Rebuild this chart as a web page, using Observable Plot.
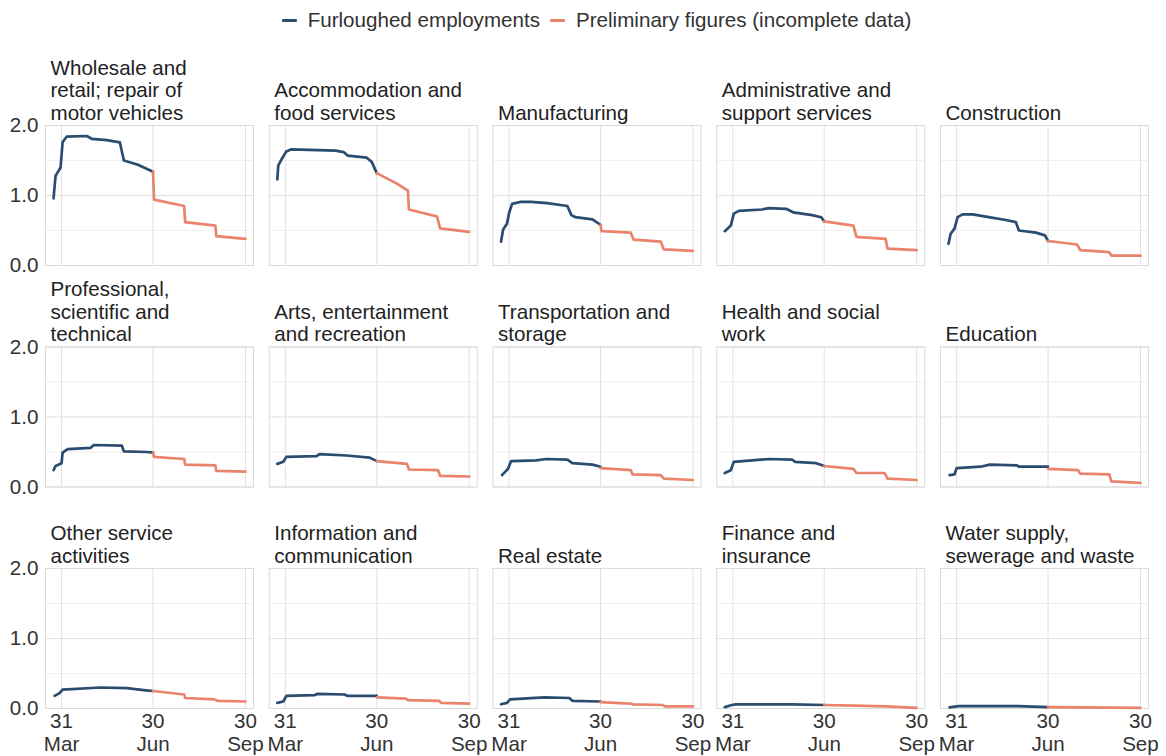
<!DOCTYPE html>
<html>
<head>
<meta charset="utf-8">
<script src="https://cdn.jsdelivr.net/npm/d3@7"></script>
<script src="https://cdn.jsdelivr.net/npm/@observablehq/plot@0.6"></script>
<style>
  html, body { margin: 0; padding: 0; background: #fff; }
  body { font-family: "Liberation Sans", Arial, sans-serif; width: 1166px; }
  #legend { height: 40px; display: flex; justify-content: center; align-items: center;
    padding-left: 45px; padding-right: 18px; box-sizing: border-box; font-size: 20.6px; color: #333; }
  .item { display: flex; align-items: center; margin: 0 5px; }
  .sw { width: 15px; height: 3px; margin-right: 11px; border-radius: 1px; }
  #chart svg { display: block; }
</style>
</head>
<body>
<div id="legend"></div>
<div id="chart"></div>
<script>
// ---- Data (values in millions) ----
const seriesNames = ["Furloughed employments", "Preliminary figures (incomplete data)"];
const seriesColors = ["#2b4c71", "#ea836b"];

const titles = [
  "Wholesale and\nretail; repair of\nmotor vehicles",
  "Accommodation and\nfood services",
  "Manufacturing",
  "Administrative and\nsupport services",
  "Construction",
  "Professional,\nscientific and\ntechnical",
  "Arts, entertainment\nand recreation",
  "Transportation and\nstorage",
  "Health and social\nwork",
  "Education",
  "Other service\nactivities",
  "Information and\ncommunication",
  "Real estate",
  "Finance and\ninsurance",
  "Water supply,\nsewerage and waste"
];

const wholesaleF = [["2020-03-23",0.96],["2020-03-25",1.28],["2020-03-30",1.40],["2020-04-01",1.76],["2020-04-05",1.84],["2020-04-25",1.85],["2020-04-30",1.81],["2020-05-15",1.79],["2020-05-28",1.76],["2020-06-01",1.50],["2020-06-15",1.44],["2020-06-30",1.34]];
const wholesaleP = [["2020-06-30",1.34],["2020-07-01",0.94],["2020-07-31",0.85],["2020-08-01",0.62],["2020-08-31",0.57],["2020-09-01",0.42],["2020-09-30",0.38]];

const accommodationF = [["2020-03-23",1.23],["2020-03-24",1.43],["2020-03-27",1.51],["2020-04-01",1.63],["2020-04-06",1.66],["2020-05-20",1.64],["2020-05-28",1.62],["2020-06-01",1.57],["2020-06-20",1.54],["2020-06-25",1.48],["2020-06-30",1.32]];
const accommodationP = [["2020-06-30",1.32],["2020-07-20",1.17],["2020-07-31",1.07],["2020-08-01",0.80],["2020-08-29",0.70],["2020-09-01",0.53],["2020-09-30",0.48]];

const manufacturingF = [["2020-03-23",0.34],["2020-03-25",0.51],["2020-03-29",0.60],["2020-03-31",0.75],["2020-04-03",0.88],["2020-04-12",0.91],["2020-04-22",0.91],["2020-05-08",0.89],["2020-05-28",0.85],["2020-06-01",0.72],["2020-06-05",0.69],["2020-06-22",0.66],["2020-06-28",0.60],["2020-06-30",0.58]];
const manufacturingP = [["2020-06-30",0.58],["2020-07-01",0.49],["2020-07-30",0.47],["2020-08-02",0.37],["2020-08-29",0.34],["2020-09-01",0.23],["2020-09-30",0.21]];

const adminF = [["2020-03-23",0.49],["2020-03-29",0.57],["2020-04-01",0.74],["2020-04-06",0.78],["2020-04-29",0.80],["2020-05-06",0.82],["2020-05-23",0.81],["2020-05-30",0.76],["2020-06-18",0.72],["2020-06-27",0.69],["2020-06-30",0.63]];
const adminP = [["2020-06-30",0.63],["2020-07-29",0.57],["2020-08-01",0.41],["2020-08-30",0.38],["2020-09-01",0.24],["2020-09-30",0.22]];

const constructionF = [["2020-03-23",0.31],["2020-03-25",0.45],["2020-03-29",0.53],["2020-04-01",0.69],["2020-04-06",0.73],["2020-04-16",0.73],["2020-05-02",0.69],["2020-05-19",0.65],["2020-05-29",0.62],["2020-06-01",0.50],["2020-06-18",0.47],["2020-06-27",0.43],["2020-06-30",0.35]];
const constructionP = [["2020-06-30",0.35],["2020-07-29",0.30],["2020-08-01",0.22],["2020-08-30",0.19],["2020-09-01",0.14],["2020-09-30",0.14]];

const professionalF = [["2020-03-23",0.24],["2020-03-25",0.30],["2020-03-31",0.34],["2020-04-01",0.49],["2020-04-06",0.54],["2020-04-29",0.56],["2020-05-02",0.60],["2020-05-30",0.59],["2020-06-01",0.51],["2020-06-24",0.50],["2020-06-30",0.49]];
const professionalP = [["2020-06-30",0.49],["2020-07-01",0.43],["2020-07-31",0.40],["2020-08-01",0.32],["2020-08-31",0.31],["2020-09-01",0.23],["2020-09-30",0.22]];

const artsF = [["2020-03-23",0.33],["2020-03-29",0.36],["2020-04-01",0.43],["2020-05-01",0.44],["2020-05-04",0.47],["2020-05-31",0.45],["2020-06-23",0.42],["2020-06-30",0.37]];
const artsP = [["2020-06-30",0.37],["2020-07-30",0.33],["2020-08-01",0.25],["2020-08-30",0.24],["2020-09-01",0.16],["2020-09-30",0.15]];

const transportF = [["2020-03-24",0.17],["2020-03-28",0.23],["2020-03-30",0.26],["2020-04-02",0.37],["2020-04-27",0.38],["2020-05-07",0.40],["2020-05-28",0.39],["2020-06-02",0.34],["2020-06-22",0.32],["2020-06-30",0.29]];
const transportP = [["2020-06-30",0.27],["2020-07-30",0.24],["2020-08-01",0.18],["2020-08-29",0.17],["2020-09-01",0.12],["2020-09-30",0.10]];

const healthF = [["2020-03-23",0.20],["2020-03-29",0.24],["2020-04-01",0.36],["2020-04-19",0.38],["2020-05-06",0.40],["2020-05-29",0.39],["2020-06-01",0.36],["2020-06-22",0.34],["2020-06-30",0.30]];
const healthP = [["2020-06-30",0.30],["2020-07-29",0.26],["2020-08-01",0.20],["2020-08-29",0.20],["2020-09-01",0.12],["2020-09-30",0.10]];

const educationF = [["2020-03-24",0.17],["2020-03-29",0.18],["2020-03-31",0.27],["2020-04-24",0.29],["2020-05-03",0.32],["2020-05-30",0.31],["2020-06-01",0.29],["2020-06-30",0.29]];
const educationP = [["2020-06-30",0.26],["2020-07-30",0.24],["2020-08-01",0.19],["2020-08-30",0.18],["2020-09-01",0.08],["2020-09-30",0.06]];

const otherF = [["2020-03-24",0.18],["2020-03-29",0.22],["2020-04-01",0.27],["2020-05-09",0.30],["2020-06-04",0.29],["2020-06-23",0.26],["2020-06-30",0.25]];
const otherP = [["2020-06-30",0.25],["2020-07-31",0.20],["2020-08-01",0.15],["2020-08-30",0.13],["2020-09-02",0.11],["2020-09-30",0.10]];

const infoF = [["2020-03-23",0.08],["2020-03-29",0.10],["2020-04-01",0.18],["2020-04-29",0.19],["2020-05-02",0.21],["2020-05-29",0.20],["2020-06-01",0.18],["2020-06-30",0.18]];
const infoP = [["2020-06-30",0.16],["2020-07-29",0.14],["2020-07-31",0.12],["2020-08-31",0.11],["2020-09-02",0.08],["2020-09-30",0.07]];

const realEstateF = [["2020-03-23",0.06],["2020-03-29",0.08],["2020-04-01",0.13],["2020-05-05",0.16],["2020-05-30",0.15],["2020-06-02",0.11],["2020-06-30",0.10]];
const realEstateP = [["2020-06-30",0.09],["2020-07-30",0.07],["2020-08-01",0.06],["2020-08-31",0.05],["2020-09-02",0.03],["2020-09-30",0.03]];

const financeF = [["2020-03-23",0.02],["2020-03-30",0.05],["2020-04-03",0.06],["2020-05-29",0.06],["2020-06-30",0.05]];
const financeP = [["2020-06-30",0.05],["2020-07-30",0.04],["2020-08-31",0.03],["2020-09-30",0.01]];

const waterF = [["2020-03-24",0.015],["2020-04-02",0.035],["2020-05-31",0.035],["2020-06-30",0.02]];
const waterP = [["2020-06-30",0.02],["2020-09-30",0.01]];

const furloughedSeries = [wholesaleF, accommodationF, manufacturingF, adminF, constructionF,
  professionalF, artsF, transportF, healthF, educationF, otherF, infoF, realEstateF, financeF, waterF];
const preliminarySeries = [wholesaleP, accommodationP, manufacturingP, adminP, constructionP,
  professionalP, artsP, transportP, healthP, educationP, otherP, infoP, realEstateP, financeP, waterP];

const tickDates = ["2020-03-31", "2020-06-30", "2020-09-30"];
const yTicks = [0, 1, 2];
const yMinor = [0.5, 1.5];

// ---- Build tables ----
const parse = d3.utcParse("%Y-%m-%d");
const rows = [];
[furloughedSeries, preliminarySeries].forEach((group, s) => {
  group.forEach((pts, i) => {
    pts.forEach(([d, v]) => rows.push({
      col: i % 5, row: Math.floor(i / 5), date: parse(d), value: v, series: seriesNames[s]
    }));
  });
});
const titleRows = titles.map((t, i) => ({col: i % 5, row: Math.floor(i / 5), title: t}));
const xTicks = tickDates.map(parse);
const monthFmt = d3.utcFormat("%b");

// ---- Legend ----
const legend = document.getElementById("legend");
seriesNames.forEach((n, i) => {
  const it = document.createElement("div");
  it.className = "item";
  const sw = document.createElement("div");
  sw.className = "sw";
  sw.style.background = seriesColors[i];
  const tx = document.createElement("span");
  tx.textContent = n;
  it.appendChild(sw); it.appendChild(tx);
  legend.appendChild(it);
});

// ---- Chart ----
const font = '"Liberation Sans", Arial, sans-serif';
const fs = 20.6;
const chart = Plot.plot({
  width: 1166,
  height: 716,
  marginLeft: 45,
  marginRight: 18,
  marginTop: 85,
  marginBottom: 48,
  style: {fontFamily: font, fontSize: fs + "px", color: "#333", background: "#fff"},
  fx: {domain: [0, 1, 2, 3, 4], paddingInner: 0.0704, paddingOuter: 0, round: false, axis: null},
  fy: {domain: [0, 1, 2], paddingInner: 0.368, paddingOuter: 0, round: false, axis: null},
  x: {type: "utc", domain: [parse("2020-03-15"), parse("2020-10-08")]},
  y: {domain: [0, 2]},
  color: {domain: seriesNames, range: seriesColors},
  marks: [
    Plot.gridY(yMinor, {stroke: "#f0f0f0", strokeOpacity: 1, strokeWidth: 1}),
    Plot.gridY(yTicks, {stroke: "#e1e1e1", strokeOpacity: 1, strokeWidth: 1}),
    Plot.gridX(xTicks, {stroke: "#e1e1e1", strokeOpacity: 1, strokeWidth: 1}),
    Plot.frame({stroke: "#dadada", strokeWidth: 1}),
    Plot.axisY(yTicks, {tickSize: 0, tickPadding: 7, tickFormat: d => d.toFixed(1), fontSize: fs, fill: "#333", label: null}),
    Plot.axisX(xTicks, {tickSize: 0, tickPadding: 4, tickFormat: d => `${d.getUTCDate()}\n${monthFmt(d)}`, fontSize: fs, fill: "#333", lineHeight: 1.08, label: null}),
    Plot.line(rows, {x: "date", y: "value", z: "series", stroke: "series", fx: "col", fy: "row",
      strokeWidth: 2.7, strokeLinejoin: "round", strokeLinecap: "round"}),
    Plot.text(titleRows, {fx: "col", fy: "row", text: "title", frameAnchor: "top-left", textAnchor: "start",
      lineAnchor: "bottom", dx: 5, dy: -6, fontSize: fs, lineHeight: 1.09, fill: "#222"})
  ]
});
document.getElementById("chart").appendChild(chart);
</script>
</body>
</html>
